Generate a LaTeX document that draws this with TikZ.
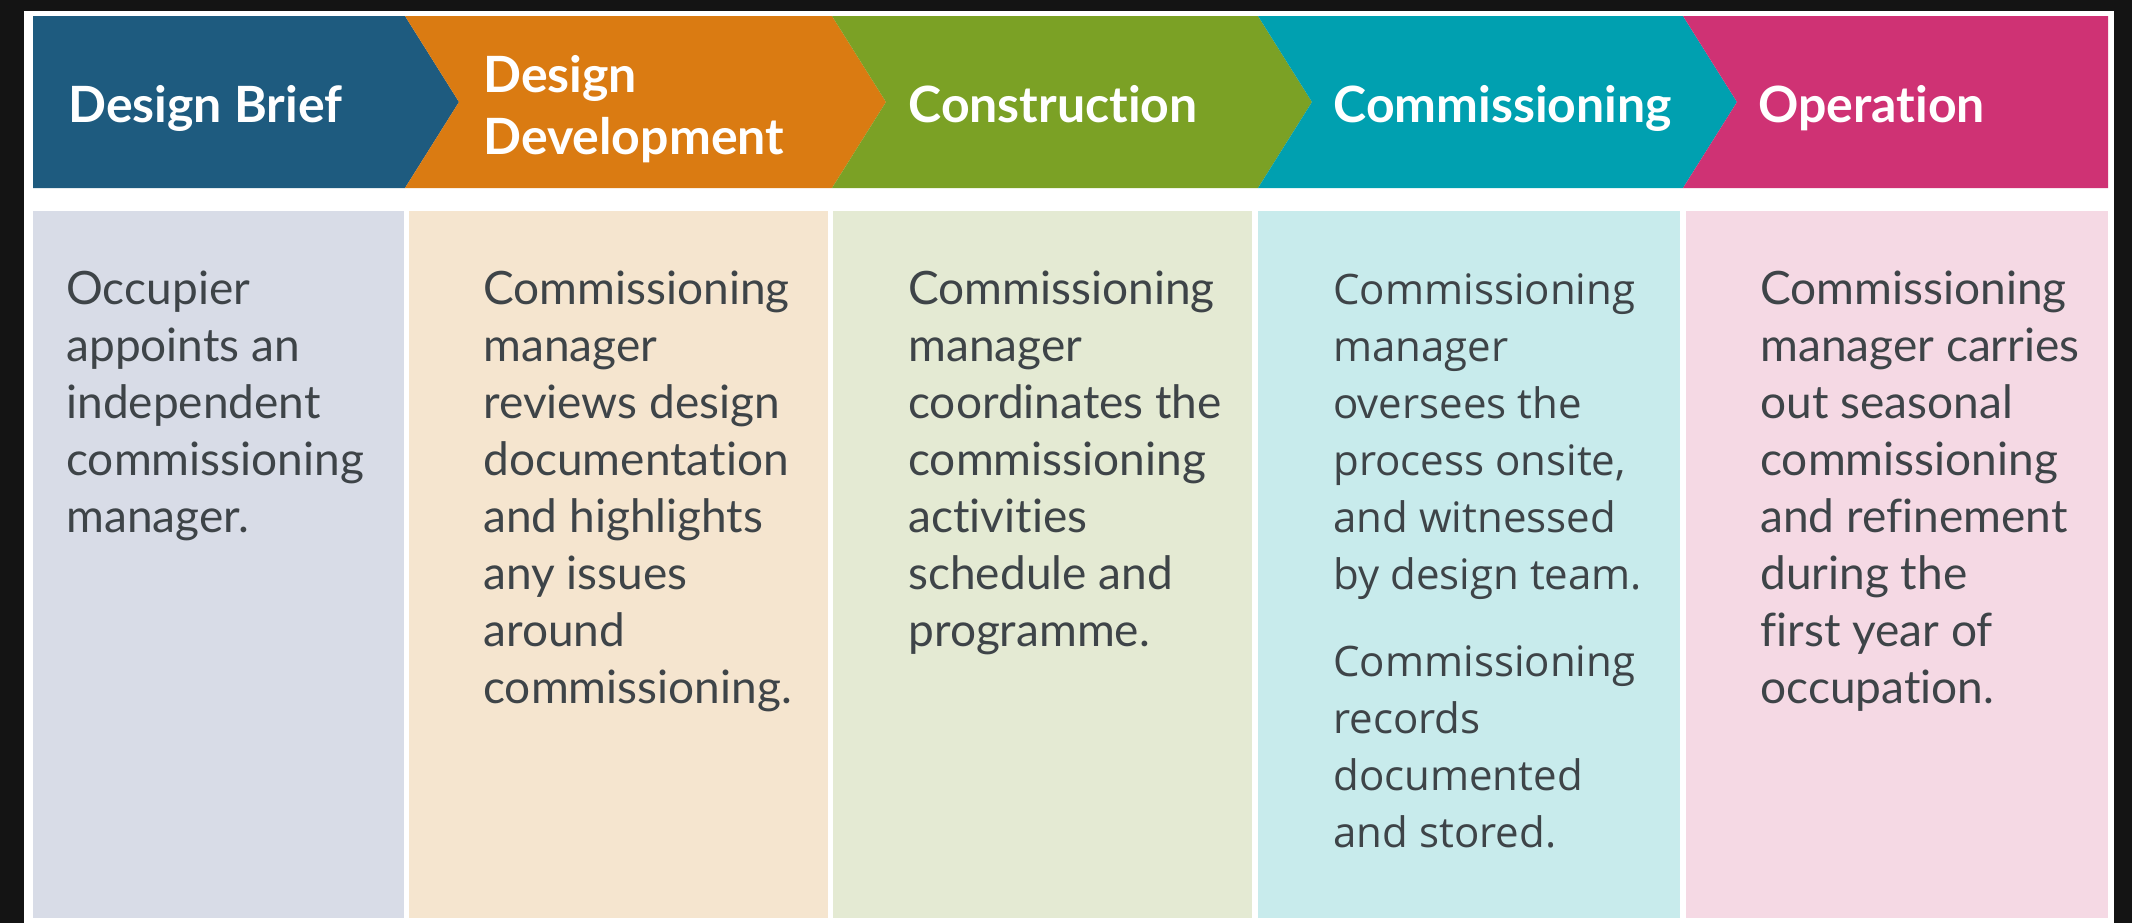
\documentclass[tikz,border=0pt]{standalone}
\usepackage{fontspec}
\setmainfont{Lato}[Ligatures=NoCommon]
\newfontfamily\colfont{Lato}[Ligatures=NoCommon]
\newfontfamily\widefont{Open Sans}
\definecolor{frame}{HTML}{141414}
\definecolor{cBrief}{HTML}{1E5B7F}
\definecolor{cDev}{HTML}{DA7B12}
\definecolor{cCons}{HTML}{7BA125}
\definecolor{cComm}{HTML}{00A0B0}
\definecolor{cOper}{HTML}{CF3274}
\definecolor{bBrief}{HTML}{D8DCE7}
\definecolor{bDev}{HTML}{F5E5CF}
\definecolor{bCons}{HTML}{E4EAD3}
\definecolor{bComm}{HTML}{C8EBEC}
\definecolor{bOper}{HTML}{F5D9E4}
\definecolor{bodytext}{HTML}{3E4448}
\tikzset{
  headtext/.style={anchor=base west, inner sep=0pt, text=white, font=\bfseries\fontsize{25pt}{31pt}\selectfont},
  coltext/.style={anchor=base west, inner sep=0pt, text=bodytext}
}
\newcommand{\coltxt}[1]{\parbox[t]{180pt}{\raggedright\colfont\fontsize{23pt}{28.5pt}\selectfont #1}}
\newcommand{\widetxt}[1]{\parbox[t]{180pt}{\raggedright\widefont\fontsize{21pt}{28.5pt}\selectfont #1}}
\begin{document}
\begin{tikzpicture}[x=0.5pt,y=-0.5pt]
\useasboundingbox (0,0) rectangle (2132,923);
\fill[frame] (0,0) rectangle (2132,923);
\fill[white] (24,11) rectangle (2114,923);
% header chevrons
\fill[cBrief] (33,16) -- (405,16) -- (459,102) -- (405,188) -- (33,188) -- cycle;
\fill[cDev] (405,16) -- (832,16) -- (886,102) -- (832,188) -- (405,188) -- (459,102) -- cycle;
\fill[cCons] (832,16) -- (1258,16) -- (1312,102) -- (1258,188) -- (832,188) -- (886,102) -- cycle;
\fill[cComm] (1258,16) -- (1683,16) -- (1737,102) -- (1683,188) -- (1258,188) -- (1312,102) -- cycle;
\fill[cOper] (1683,16) -- (2108,16) -- (2108,188) -- (1683,188) -- (1737,102) -- cycle;
% body columns
\fill[bBrief] (33,211) rectangle (404,918);
\fill[bDev] (409,211) rectangle (828,918);
\fill[bCons] (833,211) rectangle (1252,918);
\fill[bComm] (1258,211) rectangle (1680,918);
\fill[bOper] (1686,211) rectangle (2108,918);
% header texts
\node[headtext] (hBrief) at (68,122) {Design Brief};
\node[headtext] (hDev1) at (483,92) {Design};
\node[headtext] (hDev2) at (483,154) {Development};
\node[headtext] (hCons) at (908,122) {Construction};
\node[headtext] (hComm) at (1333,122) {Commissioning};
\node[headtext] (hOper) at (1758,122) {Operation};
% column texts
\node[coltext] (tBrief) at (66,304) {\coltxt{Occupier\\appoints an\\independent\\commissioning\\manager.}};
\node[coltext] (tDev) at (483,304) {\coltxt{Commissioning\\manager\\reviews design\\documentation\\and highlights\\any issues\\around\\commissioning.}};
\node[coltext] (tCons) at (908,304) {\coltxt{Commissioning\\manager\\coordinates the\\commissioning\\activities\\schedule and\\programme.}};
\node[coltext] (tComm) at (1333,304) {\widetxt{Commissioning\\manager\\oversees the\\process onsite,\\and witnessed\\by design team.\\[15pt]Commissioning\\records\\documented\\and stored.}};
\node[coltext] (tOper) at (1760,304) {\coltxt{Commissioning\\manager carries\\out seasonal\\commissioning\\and refinement\\during the\\first year of\\occupation.}};
\end{tikzpicture}
\end{document}
